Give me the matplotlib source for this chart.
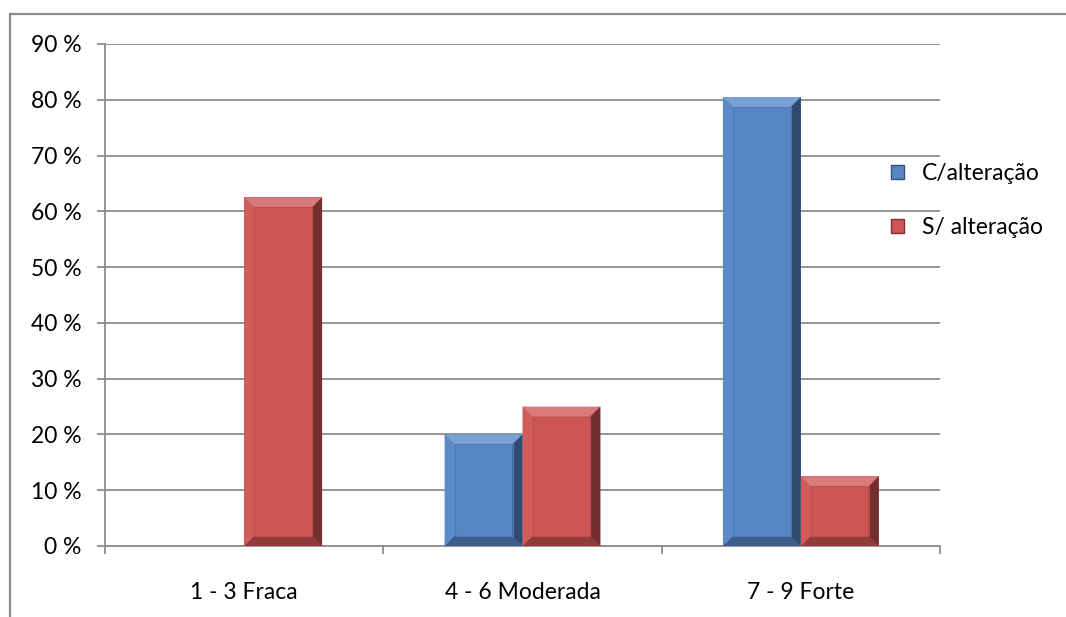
import matplotlib
matplotlib.use("Agg")
import matplotlib.pyplot as plt
from matplotlib.patches import Polygon, Patch
from matplotlib.lines import Line2D
from matplotlib.transforms import IdentityTransform
import numpy as np

categories = ["1 - 3 Fraca", "4 - 6 Moderada", "7 - 9 Forte"]
series_names = ["C/alteração", "S/ alteração"]
c_alteracao = [0, 20, 80.5]
s_alteracao = [62.5, 25, 12.5]
y_ticks = [0, 10, 20, 30, 40, 50, 60, 70, 80, 90]
y_tick_labels = [f"{v} %" for v in y_ticks]

plt.rcParams['font.family'] = ['Lato', 'DejaVu Sans']

W, H = 1066, 617
fig = plt.figure(figsize=(W / 100, H / 100), dpi=100)
ax = fig.add_axes([105 / W, 1 - 546 / H, (940 - 105) / W, (546 - 44) / H])

x = np.arange(len(categories))
bw = 0.28
face_c = "#5586C6"
face_s = "#CD5655"
bars_c = ax.bar(x - bw / 2, c_alteracao, width=bw, color=face_c, zorder=3, linewidth=0)
bars_s = ax.bar(x + bw / 2, s_alteracao, width=bw, color=face_s, zorder=3, linewidth=0)

fs = 16.5
ax.set_xlim(-0.5, len(categories) - 0.5)
ax.set_ylim(0, 90)
ax.set_yticks(y_ticks)
ax.set_yticklabels(y_tick_labels, fontsize=fs)
ax.set_xticks(x)
ax.set_xticklabels(categories, fontsize=fs)
ax.set_xticks(np.arange(len(categories) + 1) - 0.5, minor=True)
ax.tick_params(axis='x', which='major', length=0, pad=26)
ax.tick_params(axis='x', which='minor', length=6, width=1.3, color="#8c8c8c", direction='out')
ax.tick_params(axis='y', length=6, width=1.3, color="#8c8c8c", pad=11)
ax.grid(axis='y', color="#8c8c8c", linewidth=1.3, zorder=0)
ax.set_axisbelow(True)
for s in ["top", "right"]:
    ax.spines[s].set_visible(False)
for s in ["left", "bottom"]:
    ax.spines[s].set_color("#8c8c8c")
    ax.spines[s].set_linewidth(1.3)

def shade(col, f):
    c = np.array(matplotlib.colors.to_rgb(col))
    if f >= 0:
        c = c + (1 - c) * f
    else:
        c = c * (1 + f)
    return tuple(np.clip(c, 0, 1))

fig.canvas.draw()
b = 10
for bars, col in [(bars_c, face_c), (bars_s, face_s)]:
    for r in bars:
        if r.get_height() <= 0:
            continue
        ext = r.get_window_extent()
        x0, y0, x1, y1 = ext.x0, ext.y0, ext.x1, ext.y1
        polys = [
            ([(x0, y1), (x1, y1), (x1 - b, y1 - b), (x0 + b, y1 - b)], shade(col, 0.22)),
            ([(x0, y0), (x1, y0), (x1 - b, y0 + b), (x0 + b, y0 + b)], shade(col, -0.3)),
            ([(x0, y0), (x0 + b, y0 + b), (x0 + b, y1 - b), (x0, y1)], shade(col, 0.04)),
            ([(x1, y0), (x1 - b, y0 + b), (x1 - b, y1 - b), (x1, y1)], shade(col, -0.45)),
        ]
        for pts, c in polys:
            fig.add_artist(Polygon(pts, closed=True, facecolor=c, edgecolor='none',
                                   transform=IdentityTransform(), zorder=4))
        # inner soft edge
        fig.add_artist(Polygon([(x0 + b, y0 + b), (x1 - b, y0 + b), (x1 - b, y1 - b), (x0 + b, y1 - b)],
                               closed=True, facecolor='none', edgecolor=shade(col, -0.08),
                               linewidth=0.8, transform=IdentityTransform(), zorder=4))

handles = [Patch(facecolor=face_c, edgecolor=shade(face_c, -0.4)),
           Patch(facecolor=face_s, edgecolor=shade(face_s, -0.4))]
fig.legend(handles, series_names, loc='upper left', bbox_to_anchor=(891 / W, 1 - 163 / H),
           frameon=False, fontsize=fs, handlelength=0.55, handleheight=0.55,
           handletextpad=0.8, labelspacing=1.45, borderaxespad=0, borderpad=0)

# outer chart frame (partly cropped)
fig.add_artist(Line2D([10 / W, 1.0], [1 - 14 / H, 1 - 14 / H], color="#8c8c8c", lw=1.6))
fig.add_artist(Line2D([10 / W, 10 / W], [0, 1 - 14 / H], color="#8c8c8c", lw=1.6))

fig.savefig("out.png", dpi=100, facecolor="white")
